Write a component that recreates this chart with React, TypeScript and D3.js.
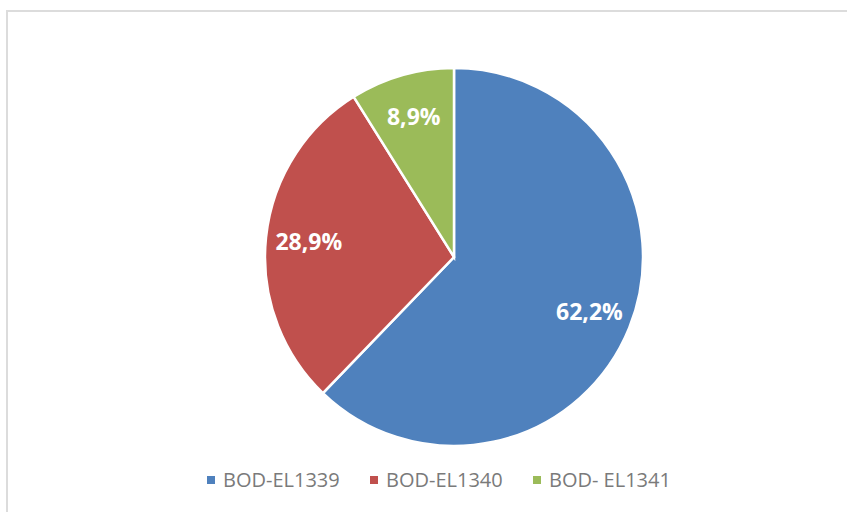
import React from 'react';
import { arc, pie, scaleOrdinal, PieArcDatum } from 'd3';

const categories = ['BOD-EL1339', 'BOD-EL1340', 'BOD- EL1341'];
const shares = [62.2, 28.9, 8.9];
const labels = ['62,2%', '28,9%', '8,9%'];
const palette = ['#4F81BD', '#C0504D', '#9BBB59'];

const W = 847;
const H = 512;
const cx = 454;
const cy = 257;
const R = 189;

type Slice = { name: string; value: number; label: string };

const App = () => {
  const data: Slice[] = categories.map((name, i) => ({ name, value: shares[i], label: labels[i] }));

  const color = scaleOrdinal<string, string>().domain(categories).range(palette);

  // pie goes clockwise from 12 o'clock, keep input order
  const slices = pie<Slice>().value(d => d.value).sort(null)(data);
  const sliceArc = arc<PieArcDatum<Slice>>().innerRadius(0).outerRadius(R);
  const labelArc = arc<PieArcDatum<Slice>>().innerRadius(146).outerRadius(146);

  const legendStart = 207;
  const legendStep = 163;

  return (
    <svg
      width={W}
      height={H}
      style={{ position: 'fixed', left: 0, top: 0, background: '#fff' }}
    >
      <rect x={7} y={11} width={W + 20} height={H + 20} fill="#fff" stroke="#dcdcdc" strokeWidth={2} />

      <g transform={`translate(${cx},${cy})`}>
        {slices.map(s => (
          <path
            key={s.data.name}
            d={sliceArc(s) || ''}
            fill={color(s.data.name)}
            stroke="#fff"
            strokeWidth={2.5}
            strokeLinejoin="miter"
          />
        ))}
        {slices.map(s => {
          const [x, y] = labelArc.centroid(s);
          return (
            <text
              key={'l' + s.data.name}
              x={x}
              y={y}
              dy="0.36em"
              textAnchor="middle"
              fill="#fff"
              fontFamily="'Open Sans', sans-serif"
              fontWeight="bold"
              fontSize={23}
            >
              {s.data.label}
            </text>
          );
        })}
      </g>

      <g fontFamily="'Open Sans', sans-serif" fontSize={20} fill="#7a7a7a">
        {categories.map((name, i) => (
          <g key={name} transform={`translate(${legendStart + i * legendStep},476)`}>
            <rect width={8} height={8} fill={color(name)} />
            <text x={16} y={11}>{name}</text>
          </g>
        ))}
      </g>
    </svg>
  );
};

export default App;
